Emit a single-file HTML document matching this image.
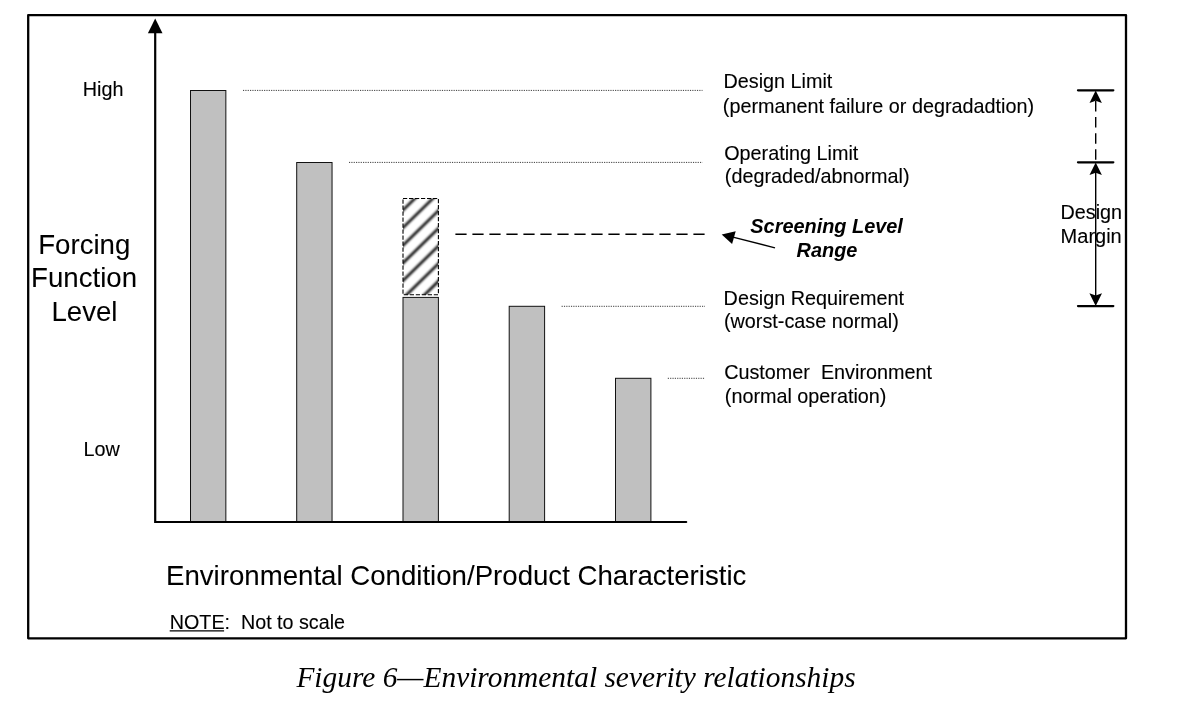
<!DOCTYPE html>
<html lang="en">
<head>
<meta charset="utf-8">
<title>Figure 6—Environmental severity relationships</title>
<style>
html,body{margin:0;padding:0;background:#fff;}
body{width:1180px;height:704px;overflow:hidden;position:relative;}
svg{position:absolute;left:0;top:0;display:block;}
text{font-family:"Liberation Sans",Arial,Helvetica,sans-serif;fill:#000;stroke:#000;stroke-width:0.12px;}
.s{font-size:19.8px;}
.b{font-size:27.64px;stroke-width:0.06px;}
.bi{font-size:19.9px;font-weight:bold;font-style:italic;stroke:none;}
.cap{stroke:none;font-family:"Liberation Serif","Times New Roman",Times,serif;font-style:italic;font-size:29.4px;}
</style>
</head>
<body>
<svg width="1180" height="704" viewBox="0 0 1180 704">
  <defs>
    <clipPath id="hc"><rect x="403" y="198.5" width="35.4" height="96.2"/></clipPath>
    <filter id="soft" x="-10%" y="-10%" width="120%" height="120%"><feGaussianBlur stdDeviation="0.8"/></filter>
  </defs>
  <rect x="0" y="0" width="1180" height="704" fill="#fff"/>

  <!-- outer frame -->
  <rect x="28.2" y="15.05" width="1097.8" height="623.3" fill="none" stroke="#000" stroke-width="2.3" stroke-linejoin="round"/>

  <!-- bars -->
  <g fill="#c0c0c0" stroke="#111" stroke-width="1">
    <rect x="190.5" y="90.5" width="35.35" height="431.5"/>
    <rect x="296.7" y="162.5" width="35.35" height="359.5"/>
    <rect x="403" y="297.4" width="35.4" height="224.6"/>
    <rect x="509.2" y="306.3" width="35.4" height="215.7"/>
    <rect x="615.5" y="378.3" width="35.4" height="143.7"/>
  </g>
  <!-- screening range (hatched) -->
  <rect x="403" y="198.5" width="35.4" height="96.2" fill="#fff"/>
  <g clip-path="url(#hc)"><path d="M401,212.06 L441,172.86 M401,229.71 L441,190.51 M401,247.36 L441,208.16 M401,265.01 L441,225.81 M401,282.66 L441,243.46 M401,300.31 L441,261.11 M401,317.96 L441,278.76" stroke="#000" stroke-width="2.5" fill="none" filter="url(#soft)"/></g>
  <rect x="403" y="198.5" width="35.4" height="96.2" fill="none" stroke="#000" stroke-width="1.1" stroke-dasharray="4.2 1.8"/>

  <!-- axes -->
  <path d="M155.2,32 V522 H686.2" fill="none" stroke="#000" stroke-width="2.2" stroke-linecap="round" stroke-linejoin="miter"/>
  <path d="M155.2,18.6 L162.5,33.2 H147.9 Z" fill="#000"/>

  <!-- dotted leader lines -->
  <g stroke="#3a3a3a" stroke-width="1" stroke-dasharray="1.17 1.17" fill="none">
    <path d="M243,90.4 H702.5"/>
    <path d="M349,162.4 H702.5"/>
    <path d="M561.6,306.3 H705"/>
    <path d="M667.8,378.3 H705"/>
  </g>
  <path d="M455.4,234.2 H704.7" stroke="#000" stroke-width="1.4" stroke-dasharray="11.2 5.8" fill="none"/>

  <!-- screening arrow -->
  <path d="M775,247.8 L730,236.3" stroke="#000" stroke-width="1.3" fill="none"/>
  <path d="M721.7,234.4 L735.7,231.2 L732.1,244 Z" fill="#000"/>

  <!-- design margin dimension -->
  <g stroke="#000" stroke-width="2.3" stroke-linecap="round" fill="none">
    <path d="M1078,90.3 H1113.3"/>
    <path d="M1078,162.3 H1113.3"/>
    <path d="M1078,306.1 H1113.3"/>
  </g>
  <path d="M1095.7,101 V162" stroke="#000" stroke-width="1.4" stroke-dasharray="10.5 5.6" fill="none"/>
  <path d="M1095.7,172 V297" stroke="#000" stroke-width="1.4" fill="none"/>
  <path d="M1095.7,90.6 L1101.9,103 L1095.7,100.8 L1089.5,103 Z" fill="#000"/>
  <path d="M1095.7,162.6 L1101.9,175 L1095.7,172.8 L1089.5,175 Z" fill="#000"/>
  <path d="M1095.7,305.9 L1102,293.3 L1095.7,295.4 L1089.4,293.3 Z" fill="#000"/>

  <!-- labels -->
  <text class="s" x="82.8" y="96">High</text>
  <text class="s" x="83.5" y="456">Low</text>
  <text class="b" text-anchor="middle"><tspan x="84.3" y="254">Forcing</tspan><tspan x="84.1" y="287">Function</tspan><tspan x="84.5" y="321">Level</tspan></text>

  <text class="s"><tspan x="723.5" y="88">Design Limit</tspan><tspan x="722.8" y="113">(permanent failure or degradadtion)</tspan></text>
  <text class="s"><tspan x="724.2" y="160">Operating Limit</tspan><tspan x="724.8" y="183">(degraded/abnormal)</tspan></text>
  <text class="bi" text-anchor="middle"><tspan x="826.6" y="233">Screening Level</tspan><tspan x="827" y="257">Range</tspan></text>
  <text class="s"><tspan x="723.6" y="305">Design Requirement</tspan><tspan x="724" y="328">(worst-case normal)</tspan></text>
  <text class="s" style="white-space:pre"><tspan x="724.2" y="379">Customer  Environment</tspan><tspan x="724.8" y="403">(normal operation)</tspan></text>

  <text class="s"><tspan x="1060.5" y="219">Design</tspan><tspan x="1060.6" y="243" style="font-size:20px">Margin</tspan></text>

  <text class="b" x="166" y="585">Environmental Condition/Product Characteristic</text>
  <text class="s" x="169.8" y="629" style="font-size:19.72px;white-space:pre">NOTE:  Not to scale</text>
  <path d="M169.7,630.95 H224.1" stroke="#000" stroke-width="1.2" fill="none"/>

  <text class="cap" x="576" y="687" text-anchor="middle">Figure 6—Environmental severity relationships</text>
</svg>
</body>
</html>
